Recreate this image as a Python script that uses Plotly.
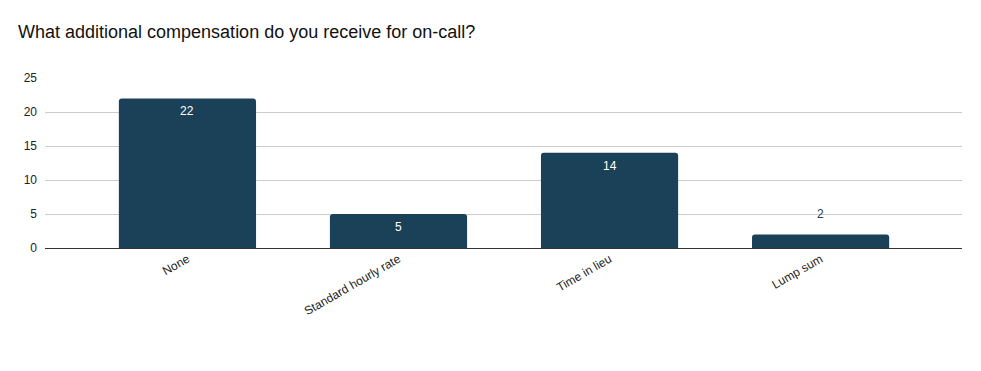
import plotly.graph_objects as go

categories = ["None", "Standard hourly rate", "Time in lieu", "Lump sum"]
values = [22, 5, 14, 2]
label_inside = [True, True, True, False]

bar_color = "#1b4159"
FONT = "Liberation Sans, Arial, sans-serif"

fig = go.Figure(
    go.Bar(
        x=categories,
        y=values,
        width=0.65,
        marker=dict(color=bar_color, line=dict(width=0)),
        hoverinfo="skip",
    )
)

for cat, val, inside in zip(categories, values, label_inside):
    fig.add_annotation(
        x=cat,
        y=val,
        text=str(val),
        showarrow=False,
        yanchor="middle",
        yshift=-13 if inside else 20,
        font=dict(size=12, family=FONT, color="#ffffff" if inside else bar_color),
    )

fig.update_layout(
    width=981,
    height=371,
    margin=dict(l=45, r=19, t=78, b=123),
    paper_bgcolor="white",
    plot_bgcolor="white",
    barcornerradius=3,
    showlegend=False,
    font=dict(family=FONT, size=12, color="#222222"),
    title=dict(
        text="What additional compensation do you receive for on-call?",
        x=18 / 981,
        xanchor="left",
        y=1 - 32 / 371,
        yanchor="middle",
        font=dict(size=18, color="#111111", family=FONT),
    ),
    xaxis=dict(
        type="category",
        range=[-0.675, 3.67],
        tickangle=-30,
        showgrid=False,
        showline=False,
        ticks="",
        ticklabelstandoff=1,
        tickfont=dict(size=12, color="#222222"),
    ),
    yaxis=dict(
        range=[0, 25],
        tickvals=[0, 5, 10, 15, 20, 25],
        showgrid=True,
        gridcolor="#cccccc",
        gridwidth=1,
        zeroline=True,
        zerolinecolor="#333333",
        zerolinewidth=1,
        ticks="",
        ticklabelstandoff=7,
        tickfont=dict(size=12, color="#222222"),
        fixedrange=True,
    ),
)

fig.write_html("out.html")
